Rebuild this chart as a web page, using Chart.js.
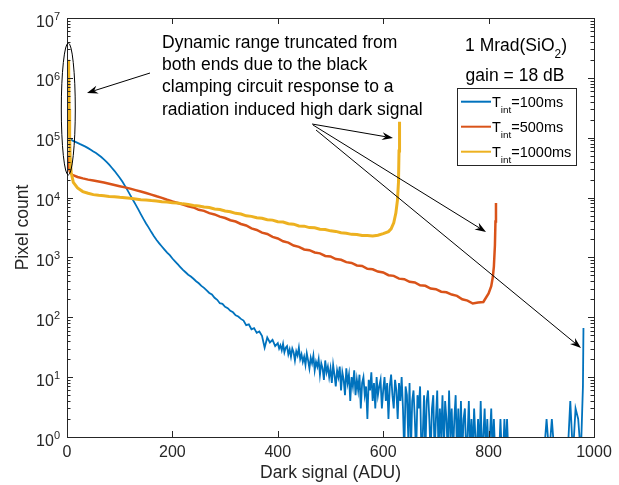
<!DOCTYPE html>
<html>
<head>
<meta charset="utf-8">
<script src="https://cdn.jsdelivr.net/npm/chart.js@4.4.1/dist/chart.umd.min.js"></script>
<style>
html, body { margin: 0; padding: 0; background: #fff; }
</style>
</head>
<body>
<canvas id="chart" width="619" height="485"></canvas>
<script>
// histogram of dark signal, three integration times
const seriesNames = ["100ms", "500ms", "1000ms"];
const seriesColors = ["#0072BD", "#D95319", "#EDB120"];

const xTicks = [0, 200, 400, 600, 800, 1000];
const yDecades = [0, 1, 2, 3, 4, 5, 6, 7];

const blueX = [3, 6,
  10, 15, 20, 25, 30, 35, 40, 45, 50, 55,
  60, 65, 70, 75, 80, 85, 90, 95, 100, 105,
  110, 115, 120, 125, 130, 135, 140, 145, 150, 155,
  160, 165, 170, 175, 180, 185, 190, 195, 200, 205,
  210, 215, 220, 225, 230, 235, 240, 245, 250, 255,
  260, 265, 270, 275, 280, 285, 290, 295, 300, 305,
  310, 315, 320, 325, 330, 335, 340, 345, 350, 355,
  360, 365, 370, 375, 380, 385, 390, 395,
  400, 402.5, 405, 407.5, 410, 412.5, 415, 417.5, 420, 422.5, 425, 427.5, 430, 432.5, 435, 437.5, 440, 442.5, 445, 447.5,
  450, 452.5, 455, 457.5, 460, 462.5, 465, 467.5, 470, 472.5, 475, 477.5, 480, 482.5, 485, 487.5, 490, 492.5, 495, 497.5,
  500, 502.5, 505, 507.5, 510, 512.5, 515, 517.5, 520, 522.5, 525, 527.5, 530, 532.5, 535, 537.5, 540, 542.5, 545, 547.5,
  550, 552.5, 555, 557.5, 560, 562.5, 565, 567.5, 570, 572.5, 575, 577.5, 580, 582.5, 585, 587.5, 590, 592.5, 595, 597.5,
  600, 602.5, 605, 607.5, 610, 612.5, 615, 617.5, 620, 622.5, 625, 627.5, 630, 632.5, 635, 637.5, 640, 642.5, 645, 647.5,
  650, 652.5, 655, 657.5, 660, 662.5, 665, 667.5, 670, 672.5, 675, 677.5, 680, 682.5, 685, 687.5, 690, 692.5, 695, 697.5,
  700, 702.5, 705, 707.5, 710, 712.5, 715, 717.5, 720, 722.5, 725, 727.5, 730, 732.5, 735, 737.5, 740, 742.5, 745, 747.5,
  750, 752.5, 755, 757.5, 760, 762.5, 765, 767.5, 770, 772.5, 775, 777.5, 780, 782.5, 785, 787.5, 790, 792.5, 795, 797.5,
  800, 802.5, 805, 807.5, 810, 812.5, 815, 817.5, 820, 822.5, 825, 827.5, 830, 832.5, 835, 837.5,
  840, 845, 850, 855, 860, 865, 870, 875, 880, 885, 890, 895, 900, 905,
  910, 915, 920, 925, 930, 935, 940, 945, 950, 955,
  960, 965, 970, 975, 979, 980];
const blueY = [150000, 98000,
  90000, 86000, 82000, 78000, 74500, 71000, 67000, 63000, 59000, 55500,
  51500, 47500, 43500, 39500, 35500, 31500, 28000, 24500, 21500, 18500,
  15700, 13200, 11000, 9200, 7700, 6400, 5300, 4400, 3700, 3150,
  2650, 2250, 1950, 1720, 1520, 1350, 1200, 1090, 960, 860,
  770, 690, 620, 565, 515, 480, 440, 400, 370, 335,
  310, 282, 255, 240, 212, 196, 172, 168, 150, 142,
  128, 121, 108, 103, 94, 88, 74, 76, 63, 66,
  55, 58, 49, 31, 46, 38, 42, 33,
  37, 30, 34, 28, 36, 26, 31, 33, 24, 29, 22, 30, 26, 19, 27, 23, 31, 20, 24, 18,
  22, 16, 25, 19, 14, 21, 17, 23, 13, 18, 15, 20, 11, 17, 14, 9, 19, 12, 15, 10,
  14, 8, 16, 11, 7, 13, 10, 15, 6, 12, 9, 5, 14, 8, 11, 4, 10, 7, 13, 5,
  9, 6, 11, 3, 8, 10, 5, 7, 2, 9, 6, 12, 4, 8, 3, 10, 5, 7, 9, 3,
  6, 10, 4, 8, 2, 7, 11, 5, 3, 9, 6, 2, 8, 4, 10, 3, 0, 7, 5, 1,
  8, 0, 4, 6, 2, 0, 5, 3, 7, 0, 1, 5, 0, 4, 6, 2, 0, 3, 5, 0,
  2, 6, 0, 3, 1, 5, 0, 4, 2, 0, 6, 1, 3, 0, 2, 5, 0, 3, 0, 4,
  0, 2, 3, 0, 1, 4, 0, 2, 0, 3, 1, 0, 2, 0, 4, 0, 1, 3, 0, 2,
  0, 1, 3, 0, 2, 0, 0, 1, 0, 2, 0, 0, 2, 0, 2, 0,
  0, 0, 0, 0, 0, 0, 0, 0, 0, 0, 0, 0, 0, 0,
  2, 0, 2, 0, 0, 0, 0, 0, 0, 4,
  0, 3, 2, 0, 7, 66];

const redX = [0, 3, 6,
  10, 20, 30, 40, 50, 60, 70, 80, 90, 100,
  110, 120, 130, 140, 150, 160, 170, 180, 190, 200,
  210, 220, 230, 240, 250, 260, 270, 280, 290, 300,
  310, 320, 330, 340, 350, 360, 370, 380, 390, 400,
  410, 420, 430, 440, 450, 460, 470, 480, 490, 500,
  510, 520, 530, 540, 550, 560, 570, 580, 590, 600,
  610, 620, 630, 640, 650, 660, 670, 680, 690, 700,
  710, 720, 730, 740, 750, 760, 770, 780, 790,
  800, 805, 808, 810, 812, 813, 814];
const redY = [60000, 31600, 26300,
  24000, 22100, 20900, 19950, 19300, 18600, 17800, 17000, 16200, 15500,
  14800, 14100, 13300, 12600, 11900, 11200, 10500, 9900, 9200, 8600,
  8100, 7650, 7150, 6850, 6250, 6000, 5500, 5230, 4800, 4560,
  4180, 3980, 3620, 3420, 3060, 2880, 2600, 2460, 2200, 2070,
  1860, 1770, 1580, 1500, 1360, 1320, 1210, 1170, 1060, 1040,
  940, 915, 835, 810, 735, 720, 645, 635, 580, 560,
  505, 492, 442, 432, 392, 382, 342, 336, 302, 295,
  268, 262, 240, 228, 200, 190, 170, 176, 180,
  250, 330, 470, 700, 1600, 4000, 8100];

const yellowX = [3, 4, 5, 6, 8, 12,
  20, 30, 40, 50, 60, 70, 80, 90, 100, 110,
  120, 130, 140, 150, 160, 170, 180, 190, 200, 210,
  220, 230, 240, 250, 260, 270, 280, 290, 300, 310,
  320, 330, 340, 350, 360, 370, 380, 390, 400, 410,
  420, 430, 440, 450, 460, 470, 480, 490, 500, 510,
  520, 530, 540, 550, 560, 570, 580, 590, 600,
  610, 615, 620, 624, 627, 629, 630, 631];
const yellowY = [2000000, 300000, 100000, 45000, 26000, 18000,
  14500, 12600, 11800, 11200, 10900, 10700, 10450, 10350, 10100, 9950,
  9700, 9500, 9200, 9100, 8900, 8800, 8550, 8450, 8200, 8100,
  7850, 7700, 7400, 7250, 6950, 6800, 6450, 6300, 5950, 5800,
  5450, 5300, 4950, 4850, 4600, 4500, 4250, 4200, 3950, 3900,
  3650, 3600, 3350, 3330, 3150, 3120, 2950, 2920, 2780, 2720,
  2580, 2540, 2430, 2420, 2330, 2320, 2290, 2350, 2500,
  2700, 3000, 3800, 5500, 9000, 18000, 60000, 185000];

const FONT = '"Liberation Sans", Arial, Helvetica, sans-serif';
const INK = "#262626";

// empty bins (0) sit below the log axis, so they are drawn just under it and clipped
function pairs(xs, ys) {
  return xs.map((x, i) => ({ x: x, y: ys[i] > 0 ? ys[i] : 0.5 }));
}

function arrow(ctx, x1, y1, x2, y2) {
  const a = Math.atan2(y2 - y1, x2 - x1);
  const c = Math.cos(a), s = Math.sin(a);
  const len = 11, half = 4, notch = 7.5;
  ctx.beginPath();
  ctx.moveTo(x1, y1);
  ctx.lineTo(x2 - c * notch, y2 - s * notch);
  ctx.stroke();
  const bx = x2 - c * len, by = y2 - s * len;
  ctx.beginPath();
  ctx.moveTo(x2, y2);
  ctx.lineTo(bx - s * half, by + c * half);
  ctx.lineTo(x2 - c * notch, y2 - s * notch);
  ctx.lineTo(bx + s * half, by - c * half);
  ctx.closePath();
  ctx.fill();
}

// text with a lowered small part, e.g. T_int or SiO_2
function richText(ctx, parts, x, y, size, align) {
  let w = 0;
  parts.forEach(p => {
    ctx.font = (p.sub ? size * 0.68 : size) + "px " + FONT;
    p.w = ctx.measureText(p.t).width;
    w += p.w;
  });
  let cx = align === "center" ? x - w / 2 : x;
  ctx.textAlign = "left";
  ctx.textBaseline = "alphabetic";
  parts.forEach(p => {
    ctx.font = (p.sub ? size * 0.68 : size) + "px " + FONT;
    ctx.fillText(p.t, cx, y + (p.sub ? size * 0.42 : 0));
    cx += p.w;
  });
}

const decor = {
  id: "decor",
  afterDraw(chart) {
    const ctx = chart.ctx;
    const a = chart.chartArea;
    const xs = chart.scales.x, ys = chart.scales.y;
    ctx.save();

    // axes box and inward ticks
    ctx.strokeStyle = INK;
    ctx.lineWidth = 1;
    ctx.beginPath();
    xTicks.forEach(t => {
      const px = Math.round(xs.getPixelForValue(t)) + 0.5;
      ctx.moveTo(px, a.bottom); ctx.lineTo(px, a.bottom - 6);
      ctx.moveTo(px, a.top); ctx.lineTo(px, a.top + 6);
    });
    yDecades.forEach(n => {
      for (let k = 1; k <= 9; k++) {
        if (n === 7 && k > 1) break;
        const py = Math.round(ys.getPixelForValue(k * Math.pow(10, n))) + 0.5;
        const l = k === 1 ? 6 : 3.5;
        ctx.moveTo(a.left, py); ctx.lineTo(a.left + l, py);
        ctx.moveTo(a.right, py); ctx.lineTo(a.right - l, py);
      }
    });
    ctx.stroke();
    ctx.strokeRect(Math.round(a.left) + 0.5, Math.round(a.top) + 0.5,
      Math.round(a.right - a.left), Math.round(a.bottom - a.top));

    // y tick labels 10^n
    ctx.fillStyle = INK;
    yDecades.forEach(n => {
      const py = ys.getPixelForValue(Math.pow(10, n));
      ctx.font = "16px " + FONT;
      const w1 = ctx.measureText("10").width;
      ctx.font = "11px " + FONT;
      const w2 = ctx.measureText(String(n)).width;
      const x0 = a.left - 7 - w1 - w2;
      ctx.textAlign = "left";
      ctx.textBaseline = "alphabetic";
      ctx.font = "16px " + FONT;
      ctx.fillText("10", x0, py + 8.5);
      ctx.font = "11px " + FONT;
      ctx.fillText(String(n), x0 + w1, py + 2);
    });

    // ellipse around the low end
    ctx.strokeStyle = "#000";
    ctx.beginPath();
    ctx.ellipse(68.3, 109, 7, 66, 0, 0, Math.PI * 2);
    ctx.stroke();

    // annotation text
    ctx.fillStyle = "#000";
    ctx.font = "17.5px " + FONT;
    ctx.textAlign = "left";
    ctx.textBaseline = "middle";
    ["Dynamic range truncated from",
     "both ends due to the black",
     "clamping circuit response to a",
     "radiation induced high dark signal"].forEach((s, i) => {
      ctx.fillText(s, 162, 43 + i * 22.3);
    });

    richText(ctx, [{ t: "1 Mrad(SiO" }, { t: "2", sub: true }, { t: ")" }], 516, 50.5, 17.5, "center");
    richText(ctx, [{ t: "gain = 18 dB" }], 515, 81, 17.5, "center");

    // arrows
    ctx.strokeStyle = "#000";
    ctx.fillStyle = "#000";
    ctx.lineWidth = 1;
    arrow(ctx, 150, 73, 87, 93);
    arrow(ctx, 312, 124, 393, 138);
    arrow(ctx, 313, 125, 486, 232);
    arrow(ctx, 316, 130, 581, 348);

    // legend
    ctx.fillStyle = "#fff";
    ctx.fillRect(458, 88.5, 119, 77);
    ctx.strokeStyle = INK;
    ctx.strokeRect(457.5, 88.5, 119, 77);
    seriesNames.forEach((name, i) => {
      const cy = 101.7 + i * 25;
      ctx.strokeStyle = seriesColors[i];
      ctx.lineWidth = 2;
      ctx.beginPath();
      ctx.moveTo(461, cy); ctx.lineTo(491, cy);
      ctx.stroke();
      ctx.fillStyle = "#000";
      richText(ctx, [{ t: "T" }, { t: "int", sub: true }, { t: "=" + name }], 492, cy + 5.2, 14.5, "left");
    });

    ctx.restore();
  }
};

new Chart(document.getElementById("chart"), {
  type: "line",
  data: {
    datasets: [
      { label: seriesNames[0], data: pairs(blueX, blueY), borderColor: seriesColors[0], borderWidth: 1.8, order: 2,
        clip: { left: 1, right: 1, top: 1, bottom: 0 } },
      { label: seriesNames[1], data: pairs(redX, redY), borderColor: seriesColors[1], borderWidth: 2.5, order: 1 },
      { label: seriesNames[2], data: pairs(yellowX, yellowY), borderColor: seriesColors[2], borderWidth: 3, order: 0 }
    ]
  },
  options: {
    responsive: false,
    animation: false,
    elements: { point: { radius: 0 }, line: { tension: 0, borderJoinStyle: "miter" } },
    layout: { padding: { left: 7, right: 25, top: 18, bottom: 0 } },
    plugins: { legend: { display: false }, tooltip: { enabled: false } },
    scales: {
      x: {
        type: "linear", min: 0, max: 1000,
        grid: { display: false, drawTicks: false },
        border: { display: false },
        afterBuildTicks: s => { s.ticks = xTicks.map(v => ({ value: v })); },
        ticks: { autoSkip: false, maxRotation: 0, padding: 6, color: INK, font: { family: FONT, size: 16 },
                 callback: v => String(v) },
        title: { display: true, text: "Dark signal (ADU)", color: INK, font: { family: FONT, size: 17.5 }, padding: { top: 0, bottom: 1.5 } },
        afterFit: s => { s.height = 48; }
      },
      y: {
        type: "logarithmic", min: 1, max: 1e7,
        grid: { display: false, drawTicks: false },
        border: { display: false },
        ticks: { display: false },
        title: { display: true, text: "Pixel count", color: INK, font: { family: FONT, size: 17.5 }, padding: { top: 5.5, bottom: 0 } },
        afterFit: s => { s.width = 60; }
      }
    }
  },
  plugins: [decor]
});
</script>
</body>
</html>
